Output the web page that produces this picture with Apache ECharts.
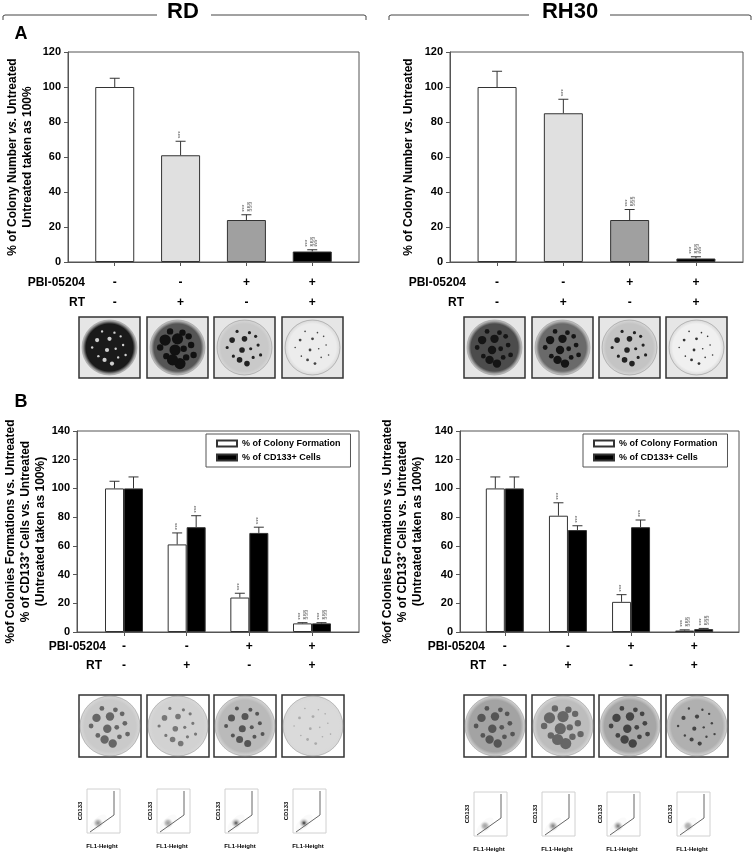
<!DOCTYPE html>
<html>
<head>
<meta charset="utf-8">
<script src="https://cdn.jsdelivr.net/npm/echarts@6/dist/echarts.min.js"></script>
<style>
  html, body { margin: 0; padding: 0; background: #fff; }
  #main { width: 754px; height: 852px; }
</style>
</head>
<body>
<div id="main"></div>
<script>
// treatment table under every chart
var pbiSigns = ['-', '-', '+', '+'];
var rtSigns = ['-', '+', '-', '+'];

// panel A: colony number, % of untreated
var rdColonyA = [100, 61, 24, 6];
var rdColonyASd = [5, 8, 3, 1];
var rhColonyA = [100, 85, 24, 2];
var rhColonyASd = [9, 8, 6, 1];
var marksA = ['', '***', '***\n§§§', '***\n§§§\n***'];

// panel B: colony formation and CD133+ cells, % of untreated
var rdColonyB = [100, 61, 24, 6];
var rdColonyBSd = [5, 8, 3, 0.5];
var rdCd133B = [100, 73, 69, 6];
var rdCd133BSd = [8, 8, 4, 0.5];
var rhColonyB = [100, 81, 21, 1];
var rhColonyBSd = [8, 9, 5, 0.5];
var rhCd133B = [100, 71, 73, 2];
var rhCd133BSd = [8, 3, 5, 0.5];
var marksB = ['', '***', '***', '***\n§§§'];

var seriesNames = ['% of Colony Formation', '% of CD133+ Cells'];

var FONT = '"Liberation Sans", Arial, sans-serif';
var shadesA = ['#ffffff', '#e0e0e0', '#a0a0a0', '#000000'];
var cats = [0, 1, 2, 3];

var grids = [
    {left: 68, top: 52, width: 291, height: 210},
    {left: 450, top: 52, width: 293, height: 210},
    {left: 77, top: 431, width: 282, height: 201},
    {left: 460, top: 431, width: 279, height: 201}
];
var pads = [0.71, 0.71, 0.75, 0.71];

function makeX(gi, margin, lh) {
    return {
        type: 'value', gridIndex: gi, min: -pads[gi], max: 3 + pads[gi],
        axisLine: {show: true, onZero: false, lineStyle: {color: '#555'}},
        axisTick: {show: true, customValues: cats, length: 4, lineStyle: {color: '#555'}},
        axisLabel: {
            customValues: cats, margin: margin, color: '#000',
            fontFamily: FONT, fontWeight: 'bold', fontSize: 12, lineHeight: lh,
            formatter: function (v) { return pbiSigns[v] + '\n' + rtSigns[v]; }
        },
        splitLine: {show: false}
    };
}

function makeY(gi, max, name, gap) {
    return {
        type: 'value', gridIndex: gi, min: 0, max: max, interval: 20,
        name: name, nameLocation: 'middle', nameGap: gap, nameRotate: 90,
        nameTextStyle: {
            fontFamily: FONT, fontWeight: 'bold', fontSize: 12, lineHeight: 15, color: '#000',
            rich: {i: {fontFamily: FONT, fontWeight: 'bold', fontStyle: 'italic', fontSize: 12, lineHeight: 15, color: '#000'}}
        },
        axisLine: {show: true, onZero: false, lineStyle: {color: '#555'}},
        axisTick: {show: true, length: 4, lineStyle: {color: '#555'}},
        axisLabel: {fontFamily: FONT, fontWeight: 'bold', fontSize: 11, color: '#000', margin: 7},
        splitLine: {show: false}
    };
}

// upper error bar + significance marks, offset in px from the category centre
function errSeries(gi, vals, sds, marks, off) {
    return {
        type: 'custom', xAxisIndex: gi, yAxisIndex: gi, z: 5, silent: true,
        data: vals.map(function (v, i) { return [i, v, v + sds[i]]; }),
        renderItem: function (params, api) {
            var base = api.coord([api.value(0), api.value(1)]);
            var top = api.coord([api.value(0), api.value(2)]);
            var x = base[0] + off;
            var kids = [
                {type: 'line', shape: {x1: x, y1: base[1], x2: x, y2: top[1]}, style: {stroke: '#333', lineWidth: 1}},
                {type: 'line', shape: {x1: x - 5, y1: top[1], x2: x + 5, y2: top[1]}, style: {stroke: '#333', lineWidth: 1}}
            ];
            var m = marks[params.dataIndex];
            if (m) {
                kids.push({
                    type: 'text', x: x, y: top[1] - 3, rotation: Math.PI / 2,
                    style: {text: m, fontSize: 6, lineHeight: 5, fontFamily: FONT, fill: '#444', align: 'left', verticalAlign: 'middle'}
                });
            }
            return {type: 'group', children: kids};
        }
    };
}

function barA(gi, vals) {
    return {
        type: 'bar', xAxisIndex: gi, yAxisIndex: gi, barWidth: 39, silent: true,
        itemStyle: {borderColor: '#333', borderWidth: 1},
        data: vals.map(function (v, i) { return {value: [i, v], itemStyle: {color: shadesA[i]}}; })
    };
}

function barB(gi, vals, k) {
    return {
        type: 'bar', name: seriesNames[k], xAxisIndex: gi, yAxisIndex: gi, barWidth: 19, barGap: '0%', silent: true,
        itemStyle: {color: k === 0 ? '#ffffff' : '#000000', borderColor: '#333', borderWidth: 1},
        data: vals.map(function (v, i) { return [i, v]; })
    };
}

// ---- decoration: header brackets, labels, plate photos, flow plots ----
var graphics = [];

function txt(x, y, s, size, align, rot) {
    graphics.push({
        type: 'text', x: x, y: y, rotation: rot || 0,
        style: {text: s, fontFamily: FONT, fontWeight: 'bold', fontSize: size, fill: '#000', align: align || 'center', verticalAlign: 'middle'}
    });
}
function pline(pts, color) {
    graphics.push({type: 'polyline', shape: {points: pts}, style: {stroke: color || '#444', lineWidth: 1, fill: null}});
}

pline([[3, 20], [3, 16], [5, 15], [157, 15]]);
pline([[211, 15], [364, 15], [366, 16], [366, 20]]);
pline([[389, 20], [389, 16], [391, 15], [529, 15]]);
pline([[610, 15], [749, 15], [751, 16], [751, 20]]);
txt(183, 12, 'RD', 22);
txt(570, 12, 'RH30', 22);
txt(21, 34, 'A', 18);
txt(21, 402, 'B', 18);

txt(85, 283, 'PBI-05204', 12, 'right');
txt(85, 303, 'RT', 12, 'right');
txt(466, 283, 'PBI-05204', 12, 'right');
txt(464, 303, 'RT', 12, 'right');
txt(106, 647, 'PBI-05204', 12, 'right');
txt(102, 666, 'RT', 12, 'right');
txt(485, 647, 'PBI-05204', 12, 'right');
txt(486, 666, 'RT', 12, 'right');

var SPOTS = [[-0.5, -0.3], [0.2, -0.6], [0.55, -0.1], [-0.1, 0.1], [0.35, 0.4], [-0.45, 0.35], [0.0, -0.35],
    [-0.7, 0.0], [0.65, 0.3], [0.1, 0.65], [-0.3, -0.65], [0.45, -0.45], [-0.2, 0.5], [0.25, 0.05]];

var platesA_RD = [{bg: '#1a1a1a', dot: '#cfcfcf', r: 1.5}, {bg: '#555555', dot: '#111111', r: 4}, {bg: '#c9c9c9', dot: '#222222', r: 2}, {bg: '#ececec', dot: '#444444', r: 1}];
var platesA_RH = [{bg: '#4c4c4c', dot: '#151515', r: 3}, {bg: '#6a6a6a', dot: '#151515', r: 3}, {bg: '#c4c4c4', dot: '#222222', r: 2}, {bg: '#f0f0f0', dot: '#333333', r: 1}];
var platesB_RD = [{bg: '#cacaca', dot: '#666666', r: 3}, {bg: '#d2d2d2', dot: '#777777', r: 2}, {bg: '#bababa', dot: '#555555', r: 2.5}, {bg: '#dadada', dot: '#aaaaaa', r: 1}];
var platesB_RH = [{bg: '#a3a3a3', dot: '#555555', r: 3}, {bg: '#bdbdbd', dot: '#666666', r: 4}, {bg: '#a6a6a6', dot: '#444444', r: 3}, {bg: '#b0b0b0', dot: '#444444', r: 1.5}];

function plates(xs, y, size, specs, framed) {
    xs.forEach(function (x, i) {
        var sp = specs[i];
        var cx = x + size / 2, cy = y + size / 2, r = framed ? size / 2 - 3 : size / 2 - 1;
        graphics.push({type: 'rect', shape: {x: x, y: y, width: size, height: size}, style: {fill: framed ? '#e6e6e6' : '#ffffff', stroke: '#333', lineWidth: 1.5}});
        graphics.push({
            type: 'circle', shape: {cx: cx, cy: cy, r: r},
            style: {
                fill: {type: 'radial', x: 0.5, y: 0.5, r: 0.5, colorStops: [{offset: 0, color: sp.bg}, {offset: 0.85, color: sp.bg}, {offset: 1, color: '#d8d8d8'}]},
                stroke: '#888', lineWidth: 0.5
            }
        });
        SPOTS.forEach(function (s, j) {
            graphics.push({type: 'circle', shape: {cx: cx + s[0] * r * 0.9, cy: cy + s[1] * r * 0.9, r: sp.r * (j % 3 === 0 ? 1.4 : 0.8)}, style: {fill: sp.dot}});
        });
    });
}
plates([79, 147, 214, 282], 317, 61, platesA_RD, true);
plates([464, 532, 599, 666], 317, 61, platesA_RH, true);
plates([79, 147, 214, 282], 695, 62, platesB_RD, false);
plates([464, 532, 599, 666], 695, 62, platesB_RH, false);

var flowRD = ['#8a8a8a', '#9a9a9a', '#444444', '#222222'];
var flowRH = ['#a0a0a0', '#7a7a7a', '#707070', '#aaaaaa'];

function flows(xs, y, shades) {
    var w = 33, h = 44;
    xs.forEach(function (x, i) {
        graphics.push({type: 'rect', shape: {x: x, y: y, width: w, height: h}, style: {fill: '#fff', stroke: '#d0d0d0', lineWidth: 1}});
        graphics.push({
            type: 'ellipse', x: x + 11, y: y + h - 10, rotation: Math.PI / 4,
            shape: {cx: 0, cy: 0, rx: 11, ry: 5},
            style: {fill: {type: 'radial', x: 0.5, y: 0.5, r: 0.5, colorStops: [{offset: 0, color: shades[i]}, {offset: 0.5, color: 'rgba(150,150,150,0.6)'}, {offset: 1, color: 'rgba(230,230,230,0.2)'}]}}
        });
        pline([[x + 3, y + h - 1], [x + 27, y + h - 18], [x + 27, y + 2]], '#666');
        txt(x - 7, y + h / 2, 'CD133', 6, 'center', Math.PI / 2);
        txt(x + 15, y + h + 13, 'FL1-Height', 6, 'center');
    });
}
flows([87, 157, 225, 293], 789, flowRD);
flows([474, 542, 607, 677], 792, flowRH);

var legendBase = {
    orient: 'vertical', top: 434, data: seriesNames, icon: 'rect', itemWidth: 20, itemHeight: 6, itemGap: 5,
    padding: [5, 10, 5, 10], borderColor: '#555', borderWidth: 1, selectedMode: false,
    textStyle: {fontFamily: FONT, fontWeight: 'bold', fontSize: 9, color: '#000'}
};

var option = {
    animation: false,
    backgroundColor: '#ffffff',
    grid: grids.map(function (g) { return Object.assign({show: true, borderColor: '#555', borderWidth: 1, backgroundColor: 'transparent'}, g); }),
    xAxis: [makeX(0, 11, 20), makeX(1, 11, 20), makeX(2, 5, 19), makeX(3, 5, 19)],
    yAxis: [
        makeY(0, 120, '% of Colony Number {i|vs.} Untreated\nUntreated taken as 100%', 33),
        makeY(1, 120, '% of Colony Number {i|vs.} Untreated', 34),
        makeY(2, 140, '%of Colonies Formations vs. Untreated\n% of CD133\u207A Cells vs. Untreated\n(Untreated taken as 100%)', 28),
        makeY(3, 140, '%of Colonies Formations vs. Untreated\n% of CD133\u207A Cells vs. Untreated\n(Untreated taken as 100%)', 35)
    ],
    legend: [
        Object.assign({left: 206}, legendBase),
        Object.assign({left: 583}, legendBase)
    ],
    series: [
        barA(0, rdColonyA),
        errSeries(0, rdColonyA, rdColonyASd, marksA, 0),
        barA(1, rhColonyA),
        errSeries(1, rhColonyA, rhColonyASd, marksA, 0),
        barB(2, rdColonyB, 0),
        barB(2, rdCd133B, 1),
        errSeries(2, rdColonyB, rdColonyBSd, marksB, -9.5),
        errSeries(2, rdCd133B, rdCd133BSd, marksB, 9.5),
        barB(3, rhColonyB, 0),
        barB(3, rhCd133B, 1),
        errSeries(3, rhColonyB, rhColonyBSd, marksB, -9.5),
        errSeries(3, rhCd133B, rhCd133BSd, marksB, 9.5)
    ],
    graphic: graphics
};

var myChart = echarts.init(document.getElementById('main'));
myChart.setOption(option);
</script>
</body>
</html>
